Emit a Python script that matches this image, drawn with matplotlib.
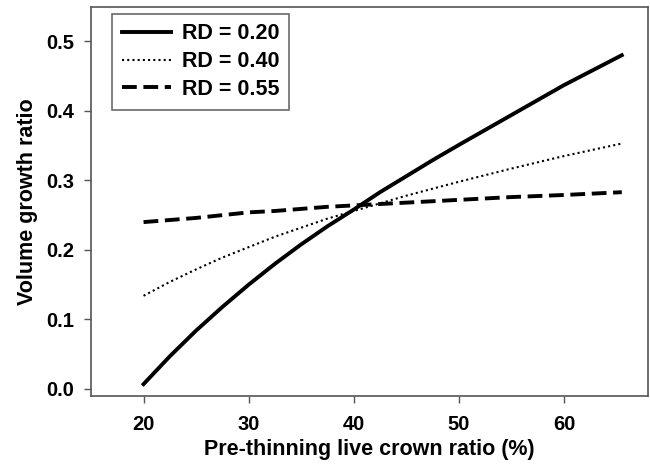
import matplotlib
matplotlib.use("Agg")
import matplotlib.pyplot as plt

plt.rcParams["font.family"] = ["Liberation Sans", "DejaVu Sans"]
plt.rcParams["font.weight"] = "bold"

# Pre-thinning live crown ratio (%)
crown_ratio = [20, 22.5, 25, 27.5, 30, 32.5, 35, 37.5, 40, 42.5, 45, 47.5, 50, 55, 60, 65.5]

# Volume growth ratio for each relative density
rd_020 = [0.007, 0.047, 0.084, 0.118, 0.150, 0.180, 0.208, 0.234, 0.258, 0.283,
          0.306, 0.329, 0.351, 0.394, 0.437, 0.480]
rd_040 = [0.134, 0.154, 0.172, 0.189, 0.204, 0.219, 0.232, 0.245, 0.256, 0.267,
          0.278, 0.288, 0.298, 0.317, 0.335, 0.353]
rd_055 = [0.240, 0.243, 0.246, 0.250, 0.254, 0.256, 0.259, 0.262, 0.264, 0.266,
          0.268, 0.270, 0.272, 0.276, 0.279, 0.283]

labels = ["RD = 0.20", "RD = 0.40", "RD = 0.55"]

fig = plt.figure(figsize=(6.5, 4.68), dpi=100)
ax = fig.add_axes([0.14, 0.154, 0.857, 0.832])

ax.plot(crown_ratio, rd_020, color="black", lw=2.8, ls="-", label=labels[0])
ax.plot(crown_ratio, rd_040, color="black", lw=1.5, ls=(0, (1, 1.5)), label=labels[1])
ax.plot(crown_ratio, rd_055, color="black", lw=2.8, ls=(0, (3.8, 1.7)), label=labels[2])

ax.set_xlim(15, 68)
ax.set_ylim(-0.01, 0.55)
ax.set_xticks([20, 30, 40, 50, 60])
ax.set_yticks([0.0, 0.1, 0.2, 0.3, 0.4, 0.5])
ax.set_yticklabels(["0.0", "0.1", "0.2", "0.3", "0.4", "0.5"])

for s in ["top", "right", "left", "bottom"]:
    ax.spines[s].set_color("#555555")
    ax.spines[s].set_linewidth(1.2)
ax.tick_params(direction="out", length=5, width=1, color="#555555",
               labelsize=14.5)
ax.tick_params(axis="x", pad=9)
ax.tick_params(axis="y", pad=7)

ax.set_xlabel("Pre-thinning live crown ratio (%)", fontsize=15.5, fontweight="bold", labelpad=3)
ax.set_ylabel("Volume growth ratio", fontsize=15.5, fontweight="bold", labelpad=6)

leg = ax.legend(loc="upper left", fontsize=15.5, handlelength=2.3, handletextpad=0.5,
                frameon=True, fancybox=False, borderpad=0.45, labelspacing=0.32,
                bbox_to_anchor=(0.038, 0.982), borderaxespad=0.0)
leg.get_frame().set_edgecolor("#444444")
leg.get_frame().set_linewidth(1.2)

fig.savefig("out.png", dpi=100)
